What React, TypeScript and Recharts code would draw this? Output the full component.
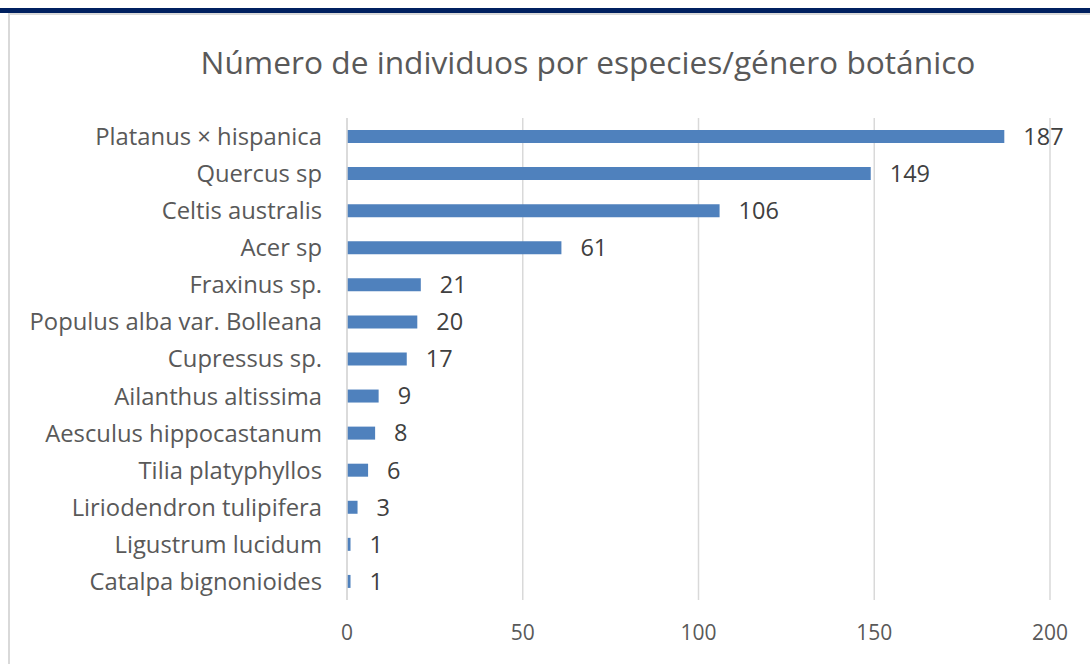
import React from "react";
import { BarChart, Bar, XAxis, YAxis, CartesianGrid, LabelList } from "recharts";

const categories = [
  "Platanus × hispanica",
  "Quercus sp",
  "Celtis australis",
  "Acer sp",
  "Fraxinus sp.",
  "Populus alba var. Bolleana",
  "Cupressus sp.",
  "Ailanthus altissima",
  "Aesculus hippocastanum",
  "Tilia platyphyllos",
  "Liriodendron tulipifera",
  "Ligustrum lucidum",
  "Catalpa bignonioides",
];
const values = [187, 149, 106, 61, 21, 20, 17, 9, 8, 6, 3, 1, 1];
const xTicks = [0, 50, 100, 150, 200];

const data = categories.map((name, i) => ({ name, value: values[i] }));

const FONT = "'Open Sans', sans-serif";

export default function App() {
  return (
    <div style={{ position: "absolute", left: 0, top: 0, width: 1090, height: 664, background: "#fff", overflow: "hidden", fontFamily: FONT }}>
      <div style={{ position: "absolute", left: 0, top: 8, width: 1090, height: 5, background: "#002060" }} />
      <div style={{ position: "absolute", left: 8, top: 13, width: 1082, height: 2, background: "#d9d9d9" }} />
      <div style={{ position: "absolute", left: 8, top: 13, width: 2, height: 651, background: "#d9d9d9" }} />
      <div style={{ position: "absolute", left: 0, width: 1176, top: 42, textAlign: "center", fontSize: 31.7, lineHeight: "40px", color: "#595959", fontFamily: FONT, whiteSpace: "nowrap" }}>
        Número de individuos por especies/género botánico
      </div>
      <div style={{ position: "absolute", left: 0, top: 0 }}>
        <BarChart
          width={1090}
          height={664}
          layout="vertical"
          data={data}
          margin={{ top: 118, right: 40, bottom: 34, left: 0 }}
          barSize={13}
        >
          <CartesianGrid horizontal={false} vertical={true} stroke="#d9d9d9" strokeWidth={1.5} />
          <XAxis
            type="number"
            domain={[0, 200]}
            ticks={xTicks}
            axisLine={false}
            tickLine={false}
            tickSize={0}
            tickMargin={25}
            tick={{ fill: "#595959", fontSize: 21, fontFamily: FONT }}
          />
          <YAxis
            type="category"
            dataKey="name"
            width={347}
            axisLine={{ stroke: "#d9d9d9", strokeWidth: 1.5 }}
            tickLine={false}
            tickSize={0}
            tickMargin={25}
            interval={0}
            tick={{ fill: "#595959", fontSize: 23.8, fontFamily: FONT }}
          />
          <Bar dataKey="value" fill="#4f81bd" isAnimationActive={false}>
            <LabelList dataKey="value" position="right" offset={19} fill="#404040" fontSize={23.5} fontFamily={FONT} />
          </Bar>
        </BarChart>
      </div>
    </div>
  );
}
